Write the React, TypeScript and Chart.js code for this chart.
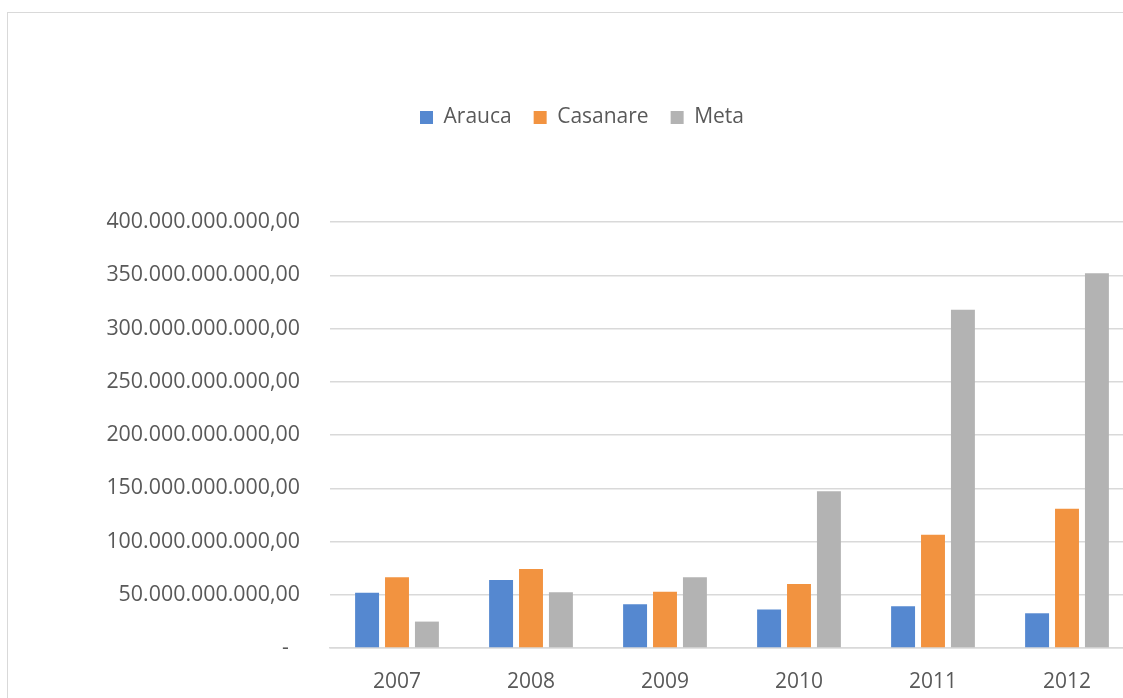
import React, { useEffect, useRef } from "react";
import { Chart, registerables } from "chart.js";

Chart.register(...registerables);

const years = ["2007", "2008", "2009", "2010", "2011", "2012"];
const arauca = [51.8e9, 63.9e9, 41.1e9, 36.1e9, 39.3e9, 32.6e9];
const casanare = [66.4e9, 74.2e9, 52.7e9, 60.2e9, 106.4e9, 130.8e9];
const meta = [24.8e9, 52.3e9, 66.4e9, 147.3e9, 317.5e9, 351.8e9];
const seriesNames = ["Arauca", "Casanare", "Meta"];
const colors = ["#5588d0", "#f29340", "#b3b3b3"];

const FONT = "'Open Sans', 'Noto Sans', sans-serif";
const TEXT = "#595959";
const GRID = "#d9d9d9";

function formatTick(v: number): string {
  if (v === 0) return "-  ";
  const s = Math.round(v).toString().replace(/\B(?=(\d{3})+(?!\d))/g, ".");
  return s + ",00";
}

const legendShift = {
  id: "legendShift",
  afterLayout(chart: any) {
    const lg = chart.legend;
    if (lg) {
      lg.left += 11;
      lg.right += 11;
    }
  },
};

export default function App() {
  const ref = useRef<HTMLCanvasElement | null>(null);
  useEffect(() => {
    if (!ref.current) return;
    const chart = new Chart(ref.current, {
      type: "bar",
      data: {
        labels: years,
        datasets: [arauca, casanare, meta].map((d, i) => ({
          label: seriesNames[i],
          data: d,
          backgroundColor: colors[i],
          borderWidth: 0,
          categoryPercentage: 0.67,
          barPercentage: 0.8,
        })),
      },
      options: {
        responsive: false,
        animation: false,
        layout: { padding: { top: 72, right: 20, left: 0, bottom: 0 } },
        plugins: {
          tooltip: { enabled: false },
          legend: {
            position: "top",
            labels: {
              boxWidth: 13,
              boxHeight: 13,
              padding: 22,
              color: TEXT,
              font: { family: FONT, size: 21 },
            },
          },
        },
        scales: {
          x: {
            grid: { display: false },
            border: { display: true, color: GRID, width: 1.5 },
            ticks: { color: TEXT, font: { family: FONT, size: 21 }, padding: 13 },
            afterFit: (s: any) => {
              s.height = 65;
            },
          },
          xSpacer: {
            type: "category",
            position: "top",
            grid: { display: false },
            border: { display: false },
            ticks: { display: false },
            afterFit: (s: any) => {
              s.height = 84;
            },
          },
          y: {
            min: 0,
            max: 400e9,
            grid: { color: GRID, lineWidth: 1.5, drawTicks: false },
            border: { display: false },
            ticks: {
              stepSize: 50e9,
              padding: 30,
              color: TEXT,
              font: { family: FONT, size: 21.4 },
              callback: (v: any) => formatTick(Number(v)),
            },
            afterFit: (s: any) => {
              s.width = 322;
            },
          },
        },
      } as any,
      plugins: [legendShift],
    });
    return () => chart.destroy();
  }, []);

  return (
    <div
      style={{
        position: "fixed",
        left: 0,
        top: 0,
        width: 1123,
        height: 698,
        overflow: "hidden",
        background: "#fff",
      }}
    >
      <div
        style={{
          position: "absolute",
          left: 7,
          top: 12,
          width: 1148,
          height: 702,
          border: "1px solid #d9d9d9",
          boxSizing: "border-box",
        }}
      >
        <canvas ref={ref} width={1146} height={700} style={{ display: "block" }} />
      </div>
    </div>
  );
}
